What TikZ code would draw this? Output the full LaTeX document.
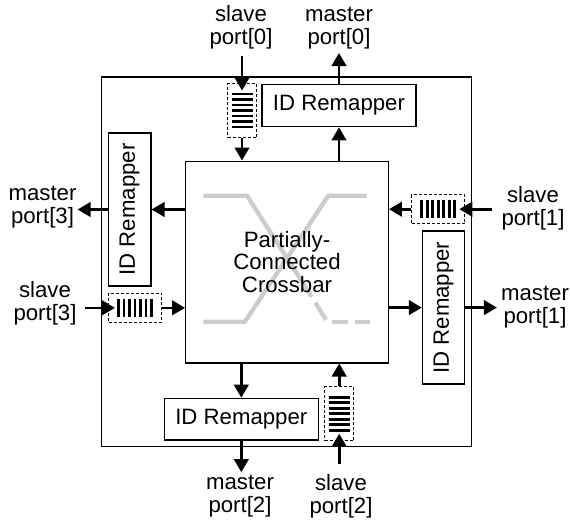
\documentclass[tikz,border=0pt]{standalone}
\usepackage{fontspec}
\setmainfont{Liberation Sans}
\usepackage{graphicx}
\usetikzlibrary{arrows.meta,calc}
\begin{document}
\begin{tikzpicture}[x=1pt,y=-1pt,
  font=\fontsize{22.2}{22.5}\selectfont,
  box/.style={draw,line width=1.3pt,inner sep=0pt},
  lbl/.style={align=center,inner sep=0pt,anchor=south},
  conn/.style={line width=2.6pt,-{Triangle[length=13pt,width=14.5pt]}},
  xgray/.style={draw=black!20,line width=4.3pt},
  queuev/.style={draw,line width=1pt,dash pattern=on 3pt off 2pt,inner sep=0pt,
    minimum width=29pt,minimum height=54pt,
    path picture={\foreach \i in {-3,...,3}{\draw[solid,line width=2.9pt]
      ($(path picture bounding box.center)+(-10.5,{\i*5.5})$) -- ++(21,0);}}},
  queueh/.style={draw,line width=1pt,dash pattern=on 3pt off 2pt,inner sep=0pt,
    minimum width=53pt,minimum height=29pt,
    path picture={\foreach \i in {-3,...,3}{\draw[solid,line width=2.9pt]
      ($(path picture bounding box.center)+({\i*5.5},-9)$) -- ++(0,18);}}}
]
\useasboundingbox[fill=white] (0,0) rectangle (570,522);

% crossbar symbol
\draw[xgray] (203.3,195.7) -- (247,195.7) -- (311.7,296.7);
\draw[xgray] (315.5,302.8) -- (326,319.8);
\draw[xgray] (331.7,321.7) -- (348.3,321.7);
\draw[xgray] (355,321.7) -- (370,321.7);
\draw[xgray] (203.3,321.7) -- (245,321.7) -- (328.3,195.7) -- (366.7,195.7);

% frames
\node[box,minimum width=370pt,minimum height=369.7pt] (outer) at (286.7,261.85) {};
\node[box,minimum width=202.6pt,minimum height=201.7pt,align=center] (xbar) at (287,262)
  {Partially-\\Connected\\Crossbar};

% ID remappers
\node[box,minimum width=154pt,minimum height=42.4pt] (rem0) at (339,105.5) {ID Remapper};
\node[box,minimum width=154pt,minimum height=41.7pt] (rem2) at (241.3,419.2) {ID Remapper};
\node[box,minimum width=42.7pt,minimum height=153pt] (rem3) at (129.5,209.5) {\rotatebox{90}{ID Remapper}};
\node[box,minimum width=42.3pt,minimum height=153pt] (rem1) at (443.6,307.6) {\rotatebox{90}{ID Remapper}};

% queues
\node[queuev] (q0) at (242,110.5) {};
\node[queuev] (q2) at (339.2,413.7) {};
\node[queueh] (q1) at (438.3,209.2) {};
\node[queueh] (q3) at (135,307.8) {};

% labels
\node[lbl] (s0) at (241,49) {slave\\port[0]};
\node[lbl] (m0) at (339,49) {master\\port[0]};
\node[lbl] (s1) at (533,230) {slave\\port[1]};
\node[lbl] (m1) at (535,328) {master\\port[1]};
\node[lbl] (m3) at (42.5,228) {master\\port[3]};
\node[lbl] (s3) at (45,325) {slave\\port[3]};
\node[lbl] (m2) at (240,517) {master\\port[2]};
\node[lbl] (s2) at (341,518) {slave\\port[2]};

% port 0
\draw[conn,shorten <=7pt,shorten >=-7.5pt] (q0.north |- s0.south) -- (q0.north);
\draw[conn] (q0.south) -- (q0.south |- xbar.north);
\draw[conn] (xbar.north -| rem0) -- (rem0.south);
\draw[conn,shorten >=4pt] (rem0.north) -- (rem0.north |- m0.south);
% port 1
\draw[conn,shorten <=9pt,shorten >=-6pt] (s1.west |- q1) -- (q1.east);
\draw[conn] (q1.west) -- (q1.west -| xbar.east);
\draw[conn] (xbar.east |- rem1) -- (rem1.west);
\draw[conn,shorten >=4pt] (rem1.east) -- (rem1.east -| m1.west);
% port 3
\draw[conn] (xbar.west |- rem3) -- (rem3.east);
\draw[conn,shorten >=1pt] (rem3.west) -- (rem3.west -| m3.east);
\draw[conn,shorten <=8pt,shorten >=-7pt] (s3.east |- q3) -- (q3.west);
\draw[conn] (q3.east) -- (q3.east -| xbar.west);
% port 2
\draw[conn] (xbar.south -| rem2) -- (rem2.north);
\draw[conn,shorten >=3pt] (rem2.south) -- (rem2.south |- m2.north);
\draw[conn,shorten <=10pt,shorten >=-7.5pt] (q2.south |- s2.north) -- (q2.south);
\draw[conn] (q2.north) -- (q2.north |- xbar.south);
\end{tikzpicture}
\end{document}
